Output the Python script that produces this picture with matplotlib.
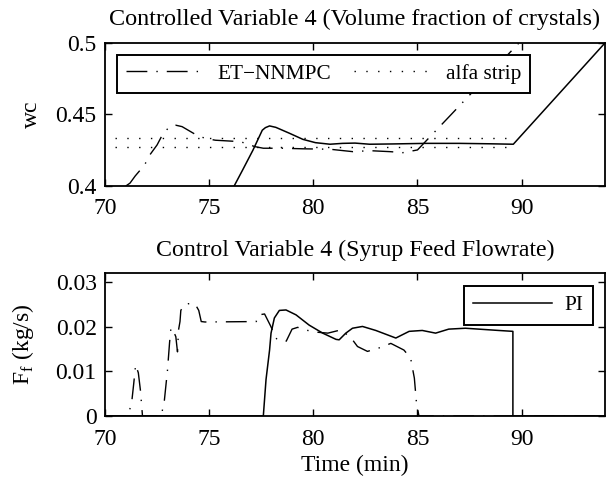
import matplotlib
matplotlib.use("Agg")
import matplotlib.pyplot as plt

plt.rcParams['font.family'] = ['Liberation Serif', 'DejaVu Serif']
plt.rcParams['mathtext.fontset'] = 'custom'
plt.rcParams['mathtext.rm'] = 'Liberation Serif'

# --- top: controlled variable wc ---
t_wc_pi = [76.2, 76.6, 77.1, 77.55, 77.7, 77.9, 78.2, 78.85, 79.5, 80.1, 80.8,
           81.4, 82.0, 82.7, 83.8, 85.4, 87.0, 88.5, 89.6, 94.0]
wc_pi = [0.400, 0.411, 0.425, 0.439, 0.4408, 0.442, 0.441, 0.4369, 0.4326, 0.4303, 0.4292,
         0.4298, 0.4300, 0.4292, 0.4294, 0.4298, 0.4298, 0.4295, 0.4292, 0.500]

t_wc_et = [71.0, 71.2, 71.45, 71.9, 72.15, 72.5, 72.8, 73.15, 73.4, 73.7, 74.3, 74.8,
           75.3, 76.5, 77.2, 77.6, 78.5, 79.5, 80.8, 81.9, 82.7, 83.7, 84.3, 85.0,
           86.6, 90.0]
wc_et = [0.400, 0.402, 0.407, 0.4147, 0.4217, 0.4287, 0.437, 0.442, 0.4425, 0.4415, 0.4364, 0.4333,
         0.432, 0.431, 0.4275, 0.4264, 0.4264, 0.426, 0.4257, 0.424, 0.4247, 0.424, 0.4233, 0.4252,
         0.4497, 0.502]

t_strip = [70.5, 89.5]
strip_hi = [0.4333, 0.4333]
strip_lo = [0.4275, 0.4275]

# --- bottom: syrup feed flowrate ---
t_ff_pi = [70.0, 77.6, 77.73, 77.9, 77.97, 78.13, 78.37, 78.69, 79.17, 79.8, 80.45,
           81.09, 81.24, 81.56, 81.88, 82.36, 83.0, 83.96, 84.6, 85.23, 85.87, 86.5,
           87.3, 87.94, 88.9, 89.58, 89.58, 94.0]
ff_pi = [0, 0, 0.0082, 0.0148, 0.0186, 0.022, 0.0237, 0.0238, 0.0227, 0.0204, 0.0186,
         0.0172, 0.0171, 0.0186, 0.0197, 0.0201, 0.0192, 0.0175, 0.019, 0.0192, 0.0186, 0.0195,
         0.0197, 0.0195, 0.0192, 0.019, 0, 0]

t_ff_et = [70.0, 71.1, 71.28, 71.38, 71.47, 71.6, 71.7, 71.8, 72.7, 72.85, 73.0, 73.1,
           73.16, 73.22, 73.4, 73.48, 73.53, 73.6, 73.64, 73.8, 74.0, 74.3, 74.38, 74.5,
           74.62, 74.8, 77.26, 77.38, 77.66, 77.93, 78.25, 78.7, 78.98, 79.25, 79.62,
           80.2, 80.7, 81.3, 81.77, 82.12, 82.6, 83.24, 83.72, 84.35, 84.67, 84.85,
           84.95, 85.07, 94.0]
ff_et = [0, 0, 0.003, 0.0073, 0.0115, 0.0097, 0.0058, 0, 0, 0.0035, 0.0103, 0.0165,
         0.0195, 0.0198, 0.0178, 0.0144, 0.0193, 0.0212, 0.0237, 0.0250, 0.0252, 0.0252, 0.0247, 0.0237,
         0.0212, 0.0211, 0.0212, 0.0227, 0.0229, 0.0204, 0.0172, 0.0168, 0.0195, 0.0199, 0.0193,
         0.0188, 0.0186, 0.0193, 0.0178, 0.0156, 0.0145, 0.0154, 0.0163, 0.0148, 0.013, 0.0085,
         0.003, 0, 0]

xticks = [70, 75, 80, 85, 90]

dashdot = (0, (15, 6.5, 1, 6.5))
dotted = (0, (1, 7.5))
FS = 17

fig = plt.figure(figsize=(6.14, 4.78), dpi=100)
ax1 = fig.add_axes([0.171, 0.6109, 0.8143, 0.2992])
ax2 = fig.add_axes([0.171, 0.1297, 0.8143, 0.2992])

# top panel
l_et, = ax1.plot(t_wc_et, wc_et, color='black', lw=1.0, linestyle=dashdot, label='ET\u2212NNMPC')
l_st, = ax1.plot(t_strip, strip_hi, color='black', lw=1.0, linestyle=dotted, label='alfa strip')
ax1.plot(t_strip, strip_lo, color='black', lw=1.0, linestyle=dotted)
ax1.plot(t_wc_pi, wc_pi, color='black', lw=1.1)
ax1.set_xlim(70, 94)
ax1.set_ylim(0.4, 0.5)
ax1.set_yticks([0.4, 0.45, 0.5])
ax1.set_yticklabels(['0.4', '0.45', '0.5'])
ax1.set_ylabel('wc', fontsize=FS)
ax1.yaxis.set_label_coords(-0.126, 0.5)
ax1.set_title('Controlled Variable 4 (Volume fraction of crystals)', fontsize=17.4, y=1.126, pad=0)
leg1 = ax1.legend(handles=[l_et, l_st], ncol=2, loc='upper left', bbox_to_anchor=(0.024, 0.916),
                  fontsize=15.3, handlelength=3.7, columnspacing=1.1, handletextpad=0.6,
                  borderpad=0.42, borderaxespad=0.0, fancybox=False, framealpha=1,
                  edgecolor='black')
leg1.get_frame().set_linewidth(1.4)

# bottom panel
l_pi, = ax2.plot(t_ff_pi, ff_pi, color='black', lw=1.1, label='PI')
ax2.plot(t_ff_et, ff_et, color='black', lw=1.0, linestyle=dashdot)
ax2.set_xlim(70, 94)
ax2.set_ylim(0, 0.0321)
ax2.set_yticks([0, 0.01, 0.02, 0.03])
ax2.set_yticklabels(['0', '0.01', '0.02', '0.03'])
ax2.set_ylabel('F$_{\\mathrm{f}}$ (kg/s)', fontsize=FS)
ax2.yaxis.set_label_coords(-0.138, 0.5)
ax2.set_xlabel('Time (min)', fontsize=FS)
ax2.xaxis.set_label_coords(0.5, -0.27)
ax2.set_title('Control Variable 4 (Syrup Feed Flowrate)', fontsize=17.2, y=1.12, pad=0)
leg2 = ax2.legend(handles=[l_pi], loc='upper right', bbox_to_anchor=(0.976, 0.909),
                  fontsize=15.3, handlelength=3.7, handletextpad=0.6,
                  borderpad=0.45, borderaxespad=0.0, fancybox=False, framealpha=1,
                  edgecolor='black')
leg2.get_frame().set_linewidth(1.4)

for ax in (ax1, ax2):
    ax.set_xticks(xticks)
    ax.tick_params(direction='in', top=True, right=True, length=5, width=1,
                   labelsize=FS, color='black')
    ax.tick_params(axis='x', pad=9)
    ax.tick_params(axis='y', pad=6)
    for sp in ax.spines.values():
        sp.set_linewidth(1.3)

fig.savefig('out.png', dpi=100)
